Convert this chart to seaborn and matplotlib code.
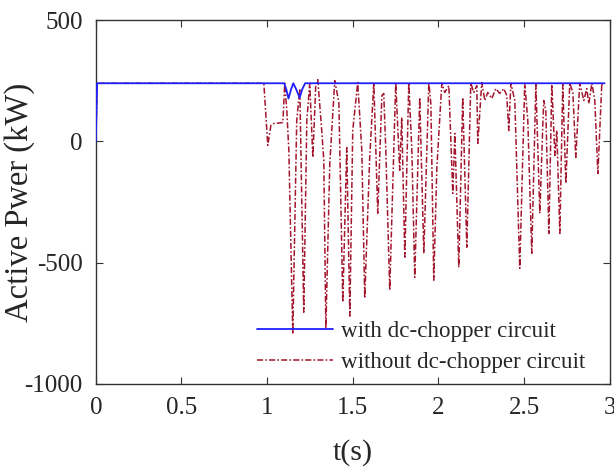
import matplotlib
matplotlib.use("Agg")
import matplotlib.pyplot as plt
import seaborn as sns
import pandas as pd

# ---- data ----
t_with = [0.000, 0.008, 1.100, 1.112, 1.125, 1.140, 1.153, 1.170, 1.190, 1.205, 1.222, 2.970]
p_with = [0, 240, 240, 215, 177, 215, 240, 215, 180, 215, 240, 240]

t_without = [0.000, 0.008, 0.981, 1.004, 1.022, 1.039, 1.092, 1.103, 1.115, 1.127,
             1.150, 1.173, 1.191, 1.214, 1.232, 1.249, 1.267, 1.284, 1.296, 1.319,
             1.331, 1.343, 1.366, 1.395, 1.419, 1.442, 1.465, 1.483, 1.500, 1.518,
             1.529, 1.553, 1.570, 1.599, 1.623, 1.646, 1.670, 1.681, 1.693, 1.716,
             1.751, 1.774, 1.786, 1.804, 1.827, 1.845, 1.862, 1.891, 1.915, 1.944,
             1.956, 1.973, 1.991, 2.020, 2.037, 2.061, 2.084, 2.096, 2.119, 2.142,
             2.166, 2.189, 2.207, 2.224, 2.230, 2.253, 2.271, 2.288, 2.312, 2.335,
             2.358, 2.382, 2.399, 2.411, 2.423, 2.446, 2.475, 2.504, 2.522, 2.545,
             2.569, 2.592, 2.609, 2.615, 2.627, 2.645, 2.662, 2.680, 2.691, 2.709,
             2.726, 2.744, 2.767, 2.785, 2.802, 2.825, 2.849, 2.866, 2.878, 2.896,
             2.913, 2.931, 2.954, 2.960]
p_without = [0, 240, 240, -16, 66, 74, 78, 240, 128, -37,
             -794, 86, 218, -704, 86, 240, -66, 230, 255, 45,
             -78, -770, -91, 251, 160, -663, -25, -720, 45, 169,
             243, -37, -646, -66, 243, -296, 189, 198, -37, -613,
             243, -119, 99, -477, 243, -37, -560, 181, -461, 243,
             156, -572, -107, 240, 202, 230, -214, 33, -519, 181,
             -436, 240, 202, 230, -8, 243, 169, 202, 177, 218,
             198, 218, 189, 45, 240, 169, -523, 240, 86, -461,
             235, -296, 58, 169, 128, -379, 235, -58, 45, -379,
             235, -173, 240, 202, -66, 240, 169, 218, 156, 240,
             169, -132, 240, 226]

x_ticks = [0, 0.5, 1, 1.5, 2, 2.5, 3]
x_tick_labels = ["0", "0.5", "1", "1.5", "2", "2.5", "3"]
y_ticks = [-1000, -500, 0, 500]
y_tick_labels = ["-1000", "-500", "0", "500"]
label_with = "with dc-chopper circuit"
label_without = "without dc-chopper circuit"

df_with = pd.DataFrame({"t": t_with, "P": p_with})
df_without = pd.DataFrame({"t": t_without, "P": p_without})

# ---- style ----
sns.set_style("ticks")
plt.rcParams["font.family"] = ["Liberation Serif", "DejaVu Serif"]
plt.rcParams["xtick.direction"] = "in"
plt.rcParams["ytick.direction"] = "in"
plt.rcParams["xtick.top"] = True
plt.rcParams["ytick.right"] = True

fig = plt.figure(figsize=(6.14, 4.70), dpi=100)
ax = fig.add_axes([0.156, 0.183, 0.837, 0.774])

sns.lineplot(data=df_without, x="t", y="P", ax=ax, sort=False, estimator=None,
             color="#a3162e", lw=1.1, linestyle=(0, (4.0, 1.4, 1.1, 1.4)),
             label=label_without, zorder=2)
sns.lineplot(data=df_with, x="t", y="P", ax=ax, sort=False, estimator=None,
             color="#1f1fff", lw=1.3, label=label_with, zorder=3)

ax.set_xlim(0, 3)
ax.set_ylim(-1000, 500)
ax.set_xticks(x_ticks)
ax.set_xticklabels(x_tick_labels)
ax.set_yticks(y_ticks)
ax.set_yticklabels(y_tick_labels)
ax.tick_params(labelsize=18, length=5, width=0.8, color="#333333", pad=9.5)
for s in ax.spines.values():
    s.set_linewidth(1.0)
    s.set_color("#333333")

ax.set_xlabel("t(s)", fontsize=21.5)
ax.set_ylabel("Active Pwer (kW)", fontsize=23.5)
ax.xaxis.set_label_coords(0.5, -0.152)
ax.yaxis.set_label_coords(-0.119, 0.5)

h, l = ax.get_legend_handles_labels()
order = [l.index(label_with), l.index(label_without)]
ax.legend([h[i] for i in order], [l[i] for i in order], loc="lower left",
          bbox_to_anchor=(0.313, 0.03), frameon=False, fontsize=16.6,
          handlelength=3.3, handletextpad=0.35, labelspacing=0.42,
          borderpad=0, borderaxespad=0)

fig.savefig("out.png", dpi=100)
